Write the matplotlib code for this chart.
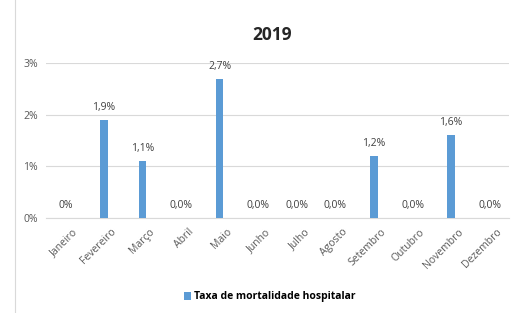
import matplotlib
matplotlib.use("Agg")
import matplotlib.pyplot as plt
import matplotlib.transforms as mtransforms
from matplotlib.ticker import FuncFormatter

months = ["Janeiro", "Fevereiro", "Março", "Abril", "Maio", "Junho", "Julho",
          "Agosto", "Setembro", "Outubro", "Novembro", "Dezembro"]
values = [0.0, 1.9, 1.1, 0.0, 2.7, 0.0, 0.0, 0.0, 1.2, 0.0, 1.6, 0.0]
labels = ["0%", "1,9%", "1,1%", "0,0%", "2,7%", "0,0%", "0,0%", "0,0%",
          "1,2%", "0,0%", "1,6%", "0,0%"]
series_name = "Taxa de mortalidade hospitalar"
title = "2019"

plt.rcParams['font.family'] = ['Open Sans', 'DejaVu Sans']
fig = plt.figure(figsize=(5.25, 3.13), dpi=100)
ax = fig.add_axes([46/525, 1-218/313, (509-46)/525, (218-63)/313])

color = "#5B9BD5"
x = list(range(len(months)))
bars = ax.bar(x, values, width=0.2, color=color, label=series_name, zorder=3)
for xi, v, lab in zip(x, values, labels):
    ax.annotate(lab, (xi, v), xytext=(0, 5), textcoords="offset points",
                ha="center", va="bottom", fontsize=7.5, color="#404040")

ax.set_xlim(-0.5, len(months) - 0.5)
ax.set_ylim(0, 3)
ax.set_yticks([0, 1, 2, 3])
ax.yaxis.set_major_formatter(FuncFormatter(lambda v, p: f"{int(v)}%"))
ax.tick_params(axis="y", labelsize=7.5, labelcolor="#595959", length=0, pad=6)
ax.tick_params(axis="x", length=0, pad=4)
ax.set_xticks(x)
ax.set_xticklabels(months, rotation=45, ha="right", rotation_mode="anchor",
                   fontsize=7.5, color="#595959")
offset = mtransforms.ScaledTranslation(7/100, -3/100, fig.dpi_scale_trans)
for lbl in ax.get_xticklabels():
    lbl.set_transform(lbl.get_transform() + offset)
ax.grid(axis="y", color="#D9D9D9", linewidth=0.8, zorder=0)
for s in ["top", "right", "left"]:
    ax.spines[s].set_visible(False)
ax.spines["bottom"].set_color("#D9D9D9")

fig.text(272/525, 1-35/313, title, ha="center", va="center",
         fontsize=12.5, fontweight="bold", color="#262626")

fig.legend(handles=[bars], labels=[series_name], loc="center",
           bbox_to_anchor=(270/525, 1-297/313), frameon=False,
           handlelength=0.7, handleheight=0.7, handletextpad=0.3,
           prop={'weight': 'bold', 'size': 7.5})

fig.add_artist(plt.Line2D([15/525, 15/525], [0, 1], color="#D9D9D9", linewidth=0.8))

fig.savefig("out.png", dpi=100)
